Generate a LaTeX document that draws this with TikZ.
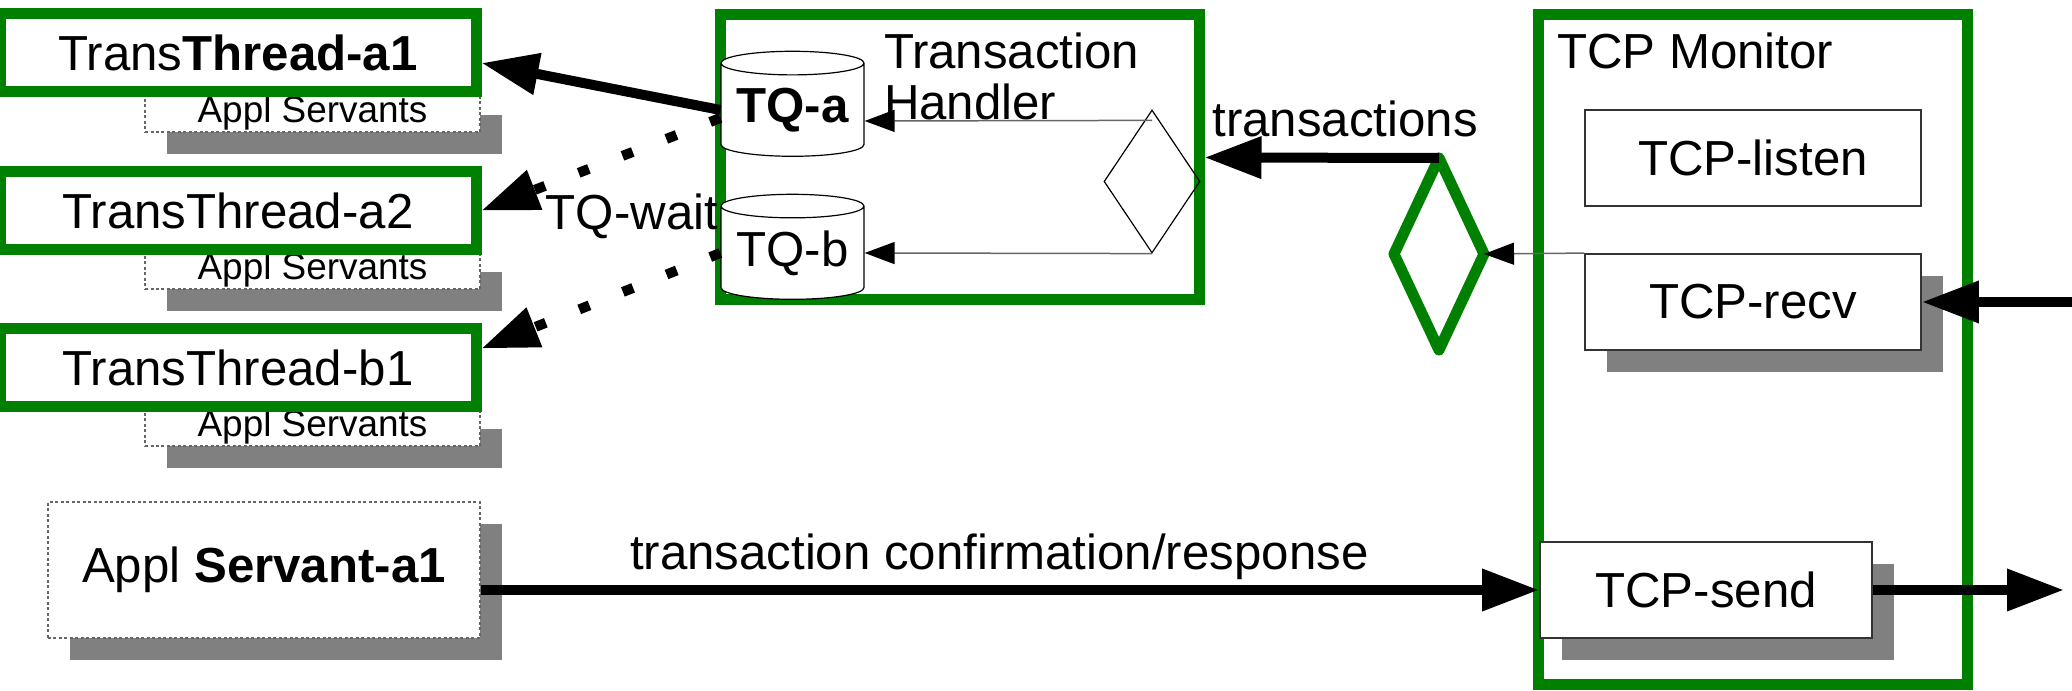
\documentclass[tikz,border=0pt]{standalone}
\usepackage{fontspec}
\setmainfont{Liberation Sans}
\usetikzlibrary{arrows.meta,calc,positioning,shapes.geometric,shadows}
\definecolor{tpgreen}{RGB}{0,128,0}
\def\shadowoff{0.22cm}
\tikzset{
    tp diagram/.style  = {font=\fontsize{14}{16}\selectfont},
    lab/.style         = {inner sep=0pt, outer sep=0pt},
    gbox/.style        = {draw=tpgreen, line width=0.11cm, fill=white,
                          inner sep=0pt},
    thread/.style      = {gbox, minimum width=4.76cm, minimum height=0.78cm},
    shadowed/.style    = {drop shadow={opacity=1, fill=black!50,
                          shadow xshift=\shadowoff,
                          shadow yshift=-\shadowoff}},
    servants/.style    = {draw=black!60, line width=0.012cm,
                          dash pattern=on 0.03cm off 0.025cm,
                          fill=white, shadowed, inner sep=0pt,
                          minimum width=3.35cm, minimum height=0.39cm,
                          font=\fontsize{10.5}{12}\selectfont},
    tcpbox/.style      = {draw=black!80, line width=0.018cm, fill=white,
                          minimum width=3.36cm, minimum height=0.96cm,
                          inner sep=0pt},
    queue/.style       = {cylinder, shape border rotate=90, draw,
                          line width=0.012cm, fill=white, aspect=0.21,
                          minimum width=1.43cm, minimum height=1.05cm,
                          inner sep=0pt},
    splitter/.style    = {diamond, draw, line width=0.012cm,
                          minimum width=0.96cm, minimum height=1.43cm,
                          inner sep=0pt},
    fat arrow/.style   = {line width=0.1cm,
                          -{Triangle[length=0.57cm, width=0.4cm]}},
    dot arrow/.style   = {fat arrow, dash pattern=on 0.11cm off 0.36cm},
    thin arrow/.style  = {draw=black!60, line width=0.015cm,
                          -{Triangle[length=0.3cm, width=0.22cm, color=black]}}
}

\begin{document}
\begin{tikzpicture}[tp diagram]
\useasboundingbox (0,0) rectangle (20.72,-6.91);

% ================= Transaction threads =================
\node[servants] (as1) at (3.125,-1.125) {Appl Servants};
\node[servants] (as2) at (3.125,-2.695) {Appl Servants};
\node[servants] (as3) at (3.125,-4.265) {Appl Servants};
\node[thread] (tt1) at (2.38,-0.53)  {Trans\textbf{Thread-a1}};
\node[thread] (tt2) at (2.38,-2.105) {TransThread-a2};
\node[thread] (tt3) at (2.38,-3.675) {TransThread-b1};

\node[servants, minimum width=4.32cm, minimum height=1.36cm,
      font=\fontsize{14}{16}\selectfont] (srv) at (2.64,-5.70)
      {Appl \textbf{Servant-a1}};

% ================= Transaction handler =================
\node[gbox, minimum width=4.79cm, minimum height=2.85cm] (thbox) at (9.595,-1.575) {};
\node[lab, anchor=north west, align=left,
      font=\fontsize{14}{14.5}\selectfont] (thtitle) at (8.84,-0.33)
      {Transaction\\Handler};
\node[queue] (tqa) at (7.925,-1.10) {\raisebox{-0.06cm}{\textbf{TQ-a}}};
\node[queue] (tqb) at (7.925,-2.53) {\raisebox{-0.06cm}{TQ-b}};
\node[splitter] (sdiam) at (11.52,-1.815) {};

\draw[thin arrow] ($(sdiam.north)+(0,-0.11)$) -- ($(tqa.east)+(0,-0.11)$);
\draw[thin arrow] (sdiam.south) -- (tqb.east);

% Queues feeding the threads.
\draw[fat arrow] (tqa.west) -- ($(tt1.east)+(0,-0.1)$);
\draw[dot arrow] ($(tqa.west)+(0,-0.08)$) -- (tt2.east);
\draw[dot arrow] (tqb.west) -- ($(tt3.east)+(0,0.19)$);
\node[lab] (tqwait) at (6.32,-2.16) {TQ-wait};

% ================= TCP monitor =================
\node[gbox, minimum width=4.29cm, minimum height=6.70cm] (tcpmon) at (17.525,-3.50) {};
\node[lab, anchor=north west] (montitle) at (15.57,-0.33) {TCP Monitor};
\node[tcpbox] (listen) at (17.53,-1.58) {TCP-listen};
\node[tcpbox, shadowed] (recv) at (17.53,-3.02) {TCP-recv};
\node[tcpbox, shadowed, minimum width=3.32cm] (send) at (17.06,-5.90) {TCP-send};

\node[splitter, draw=tpgreen, line width=0.11cm, line join=round,
      outer sep=0pt, minimum width=0.9cm, minimum height=1.92cm]
      (gdiam) at (14.39,-2.54) {};

\coordinate (recvin)  at (20.72,-3.02);
\coordinate (sendout) at (20.64,-5.90);

\draw[thin arrow] (recv.north west) -- (gdiam.east);
\draw[fat arrow] (gdiam.north) -- node[lab, above=0.21cm, pos=0.4] (trlabel)
      {transactions} (thbox.east);
\draw[fat arrow] (recvin) -- (recv.east);
\draw[fat arrow] (send.east) -- (sendout);
\draw[fat arrow] (srv.east |- send.west) -- node[lab, above=0.1cm, pos=0.49]
      (conflabel) {transaction confirmation/response} (send.west);

\end{tikzpicture}
\end{document}
